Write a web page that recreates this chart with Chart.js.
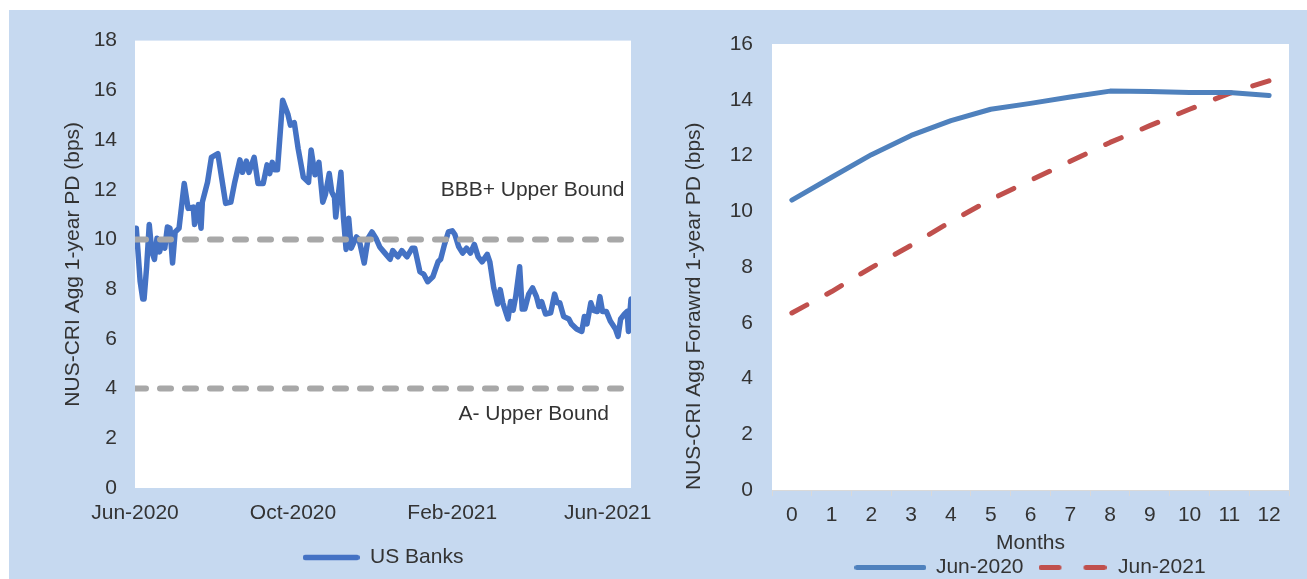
<!DOCTYPE html>
<html><head><meta charset="utf-8">
<script src="https://cdn.jsdelivr.net/npm/chart.js@4/dist/chart.umd.min.js"></script>
<style>
html,body{margin:0;padding:0;background:#fff;width:1307px;height:579px;overflow:hidden;position:relative;}
#bg{position:absolute;left:9px;top:10px;width:1298px;height:569px;background:#c6d9f0;}
#w1{position:absolute;left:9px;top:10px;width:700px;height:568px;}
#w2{position:absolute;left:655px;top:10px;width:652px;height:578px;}
canvas{display:block;}
</style></head><body>
<div id="bg"></div>
<div id="w1"><canvas id="c1" width="700" height="568" style="width:700px;height:568px"></canvas></div>
<div id="w2"><canvas id="c2" width="652" height="578" style="width:652px;height:578px"></canvas></div>
<script>
// ---------- Left panel data (days since 1 Jun 2020) ----------
const bankDays = [0,1,4,6,7,9,11,13,15,17,19,21,23,25,27,29,31,34,38,41,45,46,49,51,52,56,59,64,67,70,74,77,81,83,86,88,92,95,99,102,104,106,108,110,114,118,120,123,126,130,134,136,139,142,145,147,150,152,154,155,159,161,163,165,167,171,173,177,180,183,186,189,193,197,199,203,206,210,214,216,220,223,226,230,234,236,239,242,245,247,250,253,256,259,262,265,268,272,274,277,280,282,284,288,290,292,294,297,299,301,304,307,310,312,314,317,321,324,326,328,331,335,337,341,345,347,349,352,354,357,359,361,364,367,371,373,375,378,380,381,383];
const bankPD = [10.45,10.45,8.3,7.6,7.6,8.9,10.6,9.5,9.2,10.05,9.5,9.9,9.65,10.5,10.45,9.05,10.3,10.45,12.25,11.25,11.3,10.6,11.4,10.45,11.5,12.3,13.3,13.45,12.45,11.45,11.5,12.3,13.2,12.7,13.15,12.7,13.3,12.25,12.25,13.0,12.65,13.1,12.8,12.8,15.6,15.05,14.6,14.7,13.65,12.5,12.3,13.6,12.6,13.1,11.5,11.8,12.65,11.9,11.7,10.9,12.7,10.85,9.6,10.85,9.65,10.1,10.0,9.05,10.05,10.3,10.05,9.7,9.45,9.2,9.55,9.3,9.55,9.3,9.65,9.65,8.7,8.6,8.3,8.5,9.1,9.2,9.8,10.3,10.35,10.2,9.7,9.45,9.65,9.45,9.8,9.3,9.1,9.4,9.1,8.05,7.4,7.98,7.45,6.8,7.5,7.15,7.7,8.9,7.2,7.2,7.8,8.05,7.7,7.3,7.5,7.0,7.05,7.8,7.45,7.45,6.9,6.8,6.6,6.4,6.3,6.9,6.6,7.45,7.15,7.1,7.7,7.1,7.1,6.72,6.4,6.1,6.8,7.0,7.1,6.3,7.6];
const dateTickDays = [0,122,245,365];
const dateTickLabels = ['Jun-2020','Oct-2020','Feb-2021','Jun-2021'];
const lastDay = 383;
const bbbUpper = 10;
const aUpper = 4;

// ---------- Right panel data ----------
const months = ['0','1','2','3','4','5','6','7','8','9','10','11','12'];
const fwdJun2020 = [10.4,11.22,12.03,12.72,13.25,13.66,13.87,14.1,14.31,14.3,14.26,14.26,14.15];
const fwdJun2021 = [6.35,7.12,7.98,8.78,9.63,10.42,11.11,11.79,12.47,13.07,13.66,14.23,14.68];

const FONT = "'Liberation Sans', Arial, sans-serif";
const TXT = '#333333';
const f21 = {family: FONT, size: 21};

// legend line samples (drawn as small canvases used as point styles)
function lineSample(w, color, lw, dash) {
  const c = document.createElement('canvas');
  c.width = w; c.height = lw + 4;
  const g = c.getContext('2d');
  g.strokeStyle = color; g.lineWidth = lw; g.lineCap = 'round';
  g.setLineDash(dash);
  g.beginPath();
  g.moveTo(lw / 2, c.height / 2);
  g.lineTo(w - lw / 2, c.height / 2);
  g.stroke();
  return c;
}

const plotBg = {
  id: 'plotBg',
  beforeDraw(chart) {
    const {ctx, chartArea: a} = chart;
    ctx.save();
    ctx.fillStyle = '#ffffff';
    ctx.fillRect(a.left, a.top, a.right - a.left, a.bottom - a.top);
    ctx.restore();
  }
};

const boundText = {
  id: 'boundText',
  afterDatasetsDraw(chart) {
    const {ctx, scales: {x, y}} = chart;
    ctx.save();
    ctx.font = '21px ' + FONT;
    ctx.fillStyle = TXT;
    ctx.textAlign = 'right';
    ctx.textBaseline = 'middle';
    ctx.fillText('BBB+ Upper Bound', x.getPixelForValue(378), y.getPixelForValue(12.0));
    ctx.fillText('A- Upper Bound', x.getPixelForValue(366), y.getPixelForValue(2.95));
    ctx.restore();
  }
};

new Chart(document.getElementById('c1'), {
  type: 'line',
  data: {
    datasets: [
      { label: 'BBB+ Upper Bound', data: [{x: 0, y: bbbUpper}, {x: lastDay, y: bbbUpper}],
        borderColor: '#a8a8a8', borderWidth: 6, borderDash: [11, 14], borderCapStyle: 'round', pointRadius: 0 },
      { label: 'A- Upper Bound', data: [{x: 0, y: aUpper}, {x: lastDay, y: aUpper}],
        borderColor: '#a8a8a8', borderWidth: 6, borderDash: [11, 14], borderCapStyle: 'round', pointRadius: 0 },
      { label: 'US Banks', data: bankDays.map((d, i) => ({x: d, y: bankPD[i]})),
        borderColor: '#4472c4', backgroundColor: '#4472c4', borderWidth: 5.5, pointRadius: 0,
        borderJoinStyle: 'round', borderCapStyle: 'round', tension: 0 }
    ]
  },
  options: {
    responsive: false, animation: false, devicePixelRatio: 1,
    layout: { padding: {top: 29, left: 0, right: 78, bottom: 0} },
    plugins: {
      tooltip: {enabled: false},
      legend: {
        position: 'bottom', fullSize: false,
        labels: {
          usePointStyle: true, pointStyleWidth: 57,
          generateLabels: (chart) => [{
            text: chart.data.datasets[2].label, datasetIndex: 2, hidden: false,
            fillStyle: '#4472c4', strokeStyle: '#4472c4', lineWidth: 0, fontColor: TXT,
            pointStyle: lineSample(57, '#4472c4', 5.5, [])
          }],
          font: f21, color: TXT, padding: 10
        }
      }
    },
    scales: {
      x: {
        type: 'linear', min: 0, max: lastDay,
        afterBuildTicks: (s) => { s.ticks = dateTickDays.map(v => ({value: v})); },
        afterFit: (s) => { s.height = 49; },
        ticks: { autoSkip: false, maxRotation: 0, padding: 12.7, font: f21, color: TXT,
          callback: (v) => dateTickLabels[dateTickDays.indexOf(v)] },
        grid: {display: false, drawTicks: false},
        border: {display: false}
      },
      y: {
        min: 0, max: 18,
        afterFit: (s) => { s.width = 126; },
        ticks: {stepSize: 2, padding: 18, font: f21, color: TXT},
        grid: {display: false, drawTicks: false},
        border: {display: false},
        title: {display: true, text: 'NUS-CRI Agg 1-year PD (bps)', font: f21, color: TXT, padding: {top: 52, bottom: 0}}
      }
    }
  },
  plugins: [plotBg, boundText]
});

new Chart(document.getElementById('c2'), {
  type: 'line',
  data: {
    labels: months,
    datasets: [
      { label: 'Jun-2020', data: fwdJun2020, borderColor: '#4f81bd', backgroundColor: '#4f81bd',
        borderWidth: 5, pointRadius: 0, borderCapStyle: 'round', borderJoinStyle: 'round', tension: 0 },
      { label: 'Jun-2021', data: fwdJun2021, borderColor: '#c0504d', backgroundColor: '#c0504d',
        borderWidth: 5, borderDash: [17, 22.6], pointRadius: 0, borderCapStyle: 'round', borderJoinStyle: 'round', tension: 0 }
    ]
  },
  options: {
    responsive: false, animation: false, devicePixelRatio: 1,
    layout: { padding: {top: 34, left: 0, right: 18, bottom: 0} },
    plugins: {
      tooltip: {enabled: false},
      legend: {
        position: 'bottom', fullSize: false,
        labels: {
          usePointStyle: true, pointStyleWidth: 70,
          generateLabels: (chart) => chart.data.datasets.map((ds, i) => ({
            text: ds.label, datasetIndex: i, hidden: false,
            fillStyle: ds.borderColor, strokeStyle: ds.borderColor, lineWidth: 0, fontColor: TXT,
            pointStyle: i === 0 ? lineSample(72, ds.borderColor, 5, []) : lineSample(68, ds.borderColor, 5, [18, 27])
          })),
          font: f21, color: TXT, padding: 14
        }
      }
    },
    scales: {
      x: {
        type: 'category', offset: true,
        afterFit: (s) => { s.height = 53; },
        ticks: { autoSkip: false, maxRotation: 0, padding: 6.4, font: f21, color: TXT },
        grid: { display: true, drawOnChartArea: false, offset: true, color: '#d9d9d9', tickLength: 6 },
        border: { display: true, color: '#d9d9d9', width: 1 },
        title: { display: true, text: 'Months', font: f21, color: TXT, padding: {top: 0, bottom: -12.6} }
      },
      y: {
        min: 0, max: 16,
        afterFit: (s) => { s.width = 117; },
        ticks: {stepSize: 2, padding: 19, font: f21, color: TXT},
        grid: {display: false, drawTicks: false},
        border: {display: false},
        title: {display: true, align: 'start', text: 'NUS-CRI Agg Forawrd 1-year PD (bps)', font: f21, color: TXT, padding: {top: 26.4, bottom: 0}}
      }
    }
  },
  plugins: [plotBg]
});
</script>
</body></html>
